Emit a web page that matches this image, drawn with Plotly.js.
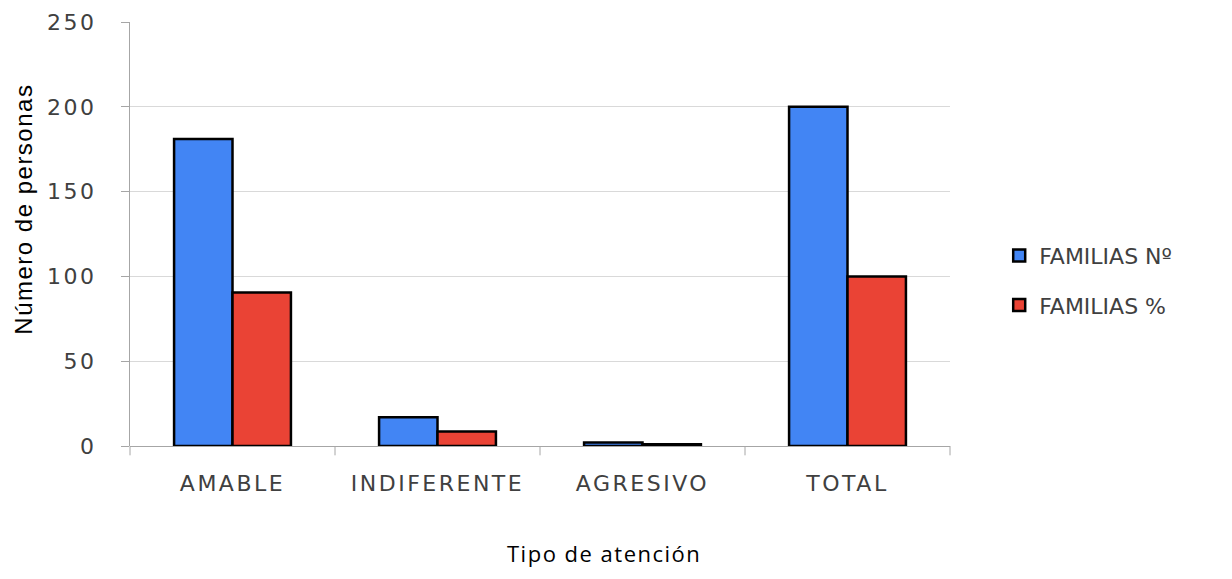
<!DOCTYPE html>
<html>
<head>
<meta charset="utf-8">
<script src="https://cdn.plot.ly/plotly-3.0.1.min.js"></script>
<style>
html,body{margin:0;padding:0;background:#fff;}
#chart{width:1232px;height:579px;}
#chart .xtick text, #chart .ytick text {letter-spacing: 2.5px;}
#chart .annotation-text {letter-spacing: 1.5px;}
</style>
</head>
<body>
<div id="chart"></div>
<script>
const categories = ["AMABLE", "INDIFERENTE", "AGRESIVO", "TOTAL"];
const familiasNum = [181, 17, 2, 200];
const familiasPct = [90.5, 8.5, 1, 100];
const yTicks = [0, 50, 100, 150, 200, 250];

const tickFont = {family: "DejaVu Sans, Verdana, sans-serif", size: 22, color: "#404040"};

const traces = [
  {type: "bar", name: "FAMILIAS Nº", x: categories, y: familiasNum, legendgroup: "a",
   marker: {color: "#4285F4", line: {color: "#000000", width: 2.5}}},
  {type: "bar", name: "FAMILIAS %", x: categories, y: familiasPct, legendgroup: "b",
   marker: {color: "#EA4335", line: {color: "#000000", width: 2.5}}}
];

const layout = {
  width: 1232, height: 579,
  margin: {l: 130, r: 282, t: 22, b: 133},
  paper_bgcolor: "#ffffff", plot_bgcolor: "#ffffff",
  barmode: "group", bargap: 0.43, bargroupgap: 0,
  showlegend: true,
  legend: {x: 1.06, y: 0.39, xanchor: "left", yanchor: "middle",
           traceorder: "grouped", tracegroupgap: 18,
           font: {family: "DejaVu Sans, Verdana, sans-serif", size: 22, color: "#404040"}},
  xaxis: {type: "category", showgrid: false, showline: false, zeroline: false,
          ticks: "", tickfont: tickFont, ticklabelstandoff: 22},
  yaxis: {range: [0, 250], tickvals: yTicks, ticktext: yTicks.map(String),
          showgrid: true, gridcolor: "#d9d9d9", gridwidth: 1,
          showline: true, linecolor: "#a6a6a6", linewidth: 1,
          ticks: "outside", ticklen: 8, tickcolor: "#a6a6a6",
          zeroline: true, zerolinecolor: "#a6a6a6", zerolinewidth: 1,
          tickfont: tickFont, ticklabelstandoff: 20},
  shapes: [0, 1, 2, 3, 4].map(i => ({type: "line", xref: "paper", yref: "paper",
          x0: i / 4, x1: i / 4, y0: 0, y1: -0.022, line: {color: "#a6a6a6", width: 1}})),
  annotations: [
    {text: "Número de personas", xref: "paper", yref: "paper", x: -0.129, y: 0.559,
     xanchor: "center", yanchor: "middle", textangle: -90, showarrow: false,
     font: {family: "Liberation Sans, Arial, sans-serif", size: 24, color: "#000000"}},
    {text: "Tipo de atención", xref: "paper", yref: "paper", x: 0.578, y: -0.252,
     xanchor: "center", yanchor: "middle", showarrow: false,
     font: {family: "Open Sans, Calibri, sans-serif", size: 22, color: "#000000"}}
  ]
};

Plotly.newPlot("chart", traces, layout, {displayModeBar: false, staticPlot: true});
</script>
</body>
</html>
